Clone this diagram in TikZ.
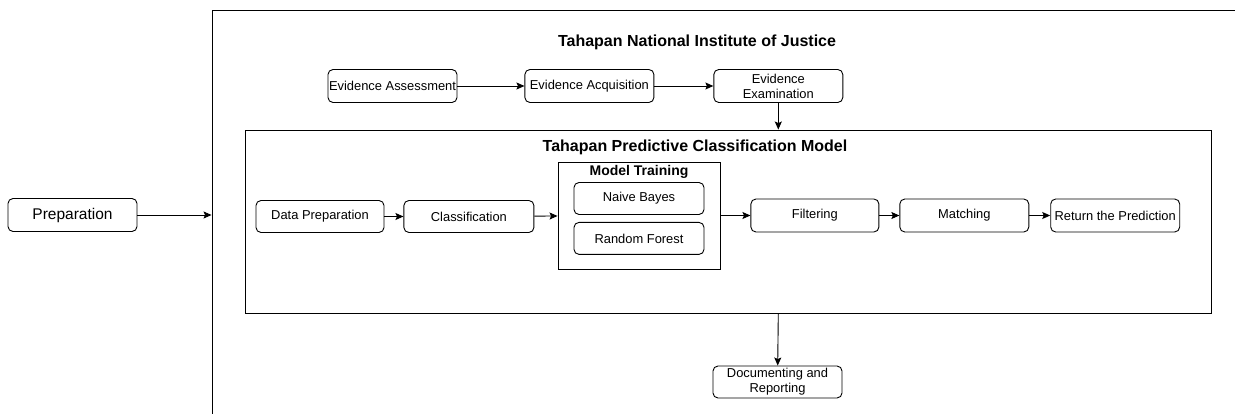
\documentclass[tikz,border=0pt]{standalone}
\usepackage{fontspec}
\setmainfont{Liberation Sans}
\usetikzlibrary{positioning, arrows.meta}

\begin{document}
\begin{tikzpicture}[
    x=1pt, y=-1pt,
    node distance=20pt,
    box/.style={draw=black, line width=0.9pt, rounded corners=5pt, align=center, inner sep=0pt,
        minimum width=129pt, minimum height=33pt, font=\fontsize{12.9}{15}\selectfont},
    frame/.style={draw=black, line width=0.9pt, inner sep=0pt},
    heading/.style={font=\fontsize{16}{19}\selectfont\bfseries, inner sep=0pt},
    link/.style={draw, line width=0.9pt, -{Stealth[length=8pt, width=7pt, inset=1.5pt]}}
]

\useasboundingbox (0,0) rectangle (1235,414);
\clip (0,0) rectangle (1235,414);

% Frames
\node[frame, minimum width=1038pt, minimum height=420pt] (nij) at (731,220) {};
\node[frame, minimum width=966pt, minimum height=183pt] (pcm) at (728,221.5) {};
\node[frame, minimum width=162pt, minimum height=107pt] (training) at (639,215.5) {};

% Titles
\node[heading] (nijtitle) at (697,42) {Tahapan National Institute of Justice};
\node[heading] (pcmtitle) at (695,147) {Tahapan Predictive Classification Model};
\node[heading, font=\fontsize{14}{17}\selectfont\bfseries] (traintitle) at (639,172) {Model Training};

% Nodes
\node[box, font=\fontsize{15.5}{18}\selectfont] (prep) at (72.5,215) {Preparation};
\node[box] (assess) at (392.5,86) {Evidence Assessment};
\node[box, right=67pt of assess] (acquire) {Evidence Acquisition};
\node[box, right=59pt of acquire] (examine) {Evidence\\Examination};
\node[box, minimum width=128pt, minimum height=32pt] (dataprep) at (320,216.5) {Data Preparation};
\node[box, minimum width=130pt, minimum height=32pt, right=19pt of dataprep] (classify) {Classification};
\node[box, minimum width=130pt, minimum height=32pt] (bayes) at (639,198.5) {Naive Bayes};
\node[box, minimum width=130pt, minimum height=32pt, below=7pt of bayes] (forest) {Random Forest};
\node[box, minimum width=128pt, right=30pt of training] (filter) {Filtering};
\node[box, right=20pt of filter] (match) {Matching};
\node[box, right=21pt of match] (predict) {Return the Prediction};
\node[box, minimum height=32pt] (report) at (777.5,382) {Documenting and\\Reporting};

% Paths
\draw[link] (prep) -- (prep -| nij.west);
\draw[link] (assess) -- (acquire);
\draw[link] (acquire) -- (examine);
\draw[link] (examine) -- (examine |- pcm.north);
\draw[link] (dataprep) -- (classify);
\draw[link] (classify) -- (training);
\draw[link] (training) -- (filter);
\draw[link] (filter) -- (match);
\draw[link] (match) -- (predict);
\draw[link] (examine |- pcm.south) -- (report);

\end{tikzpicture}
\end{document}
